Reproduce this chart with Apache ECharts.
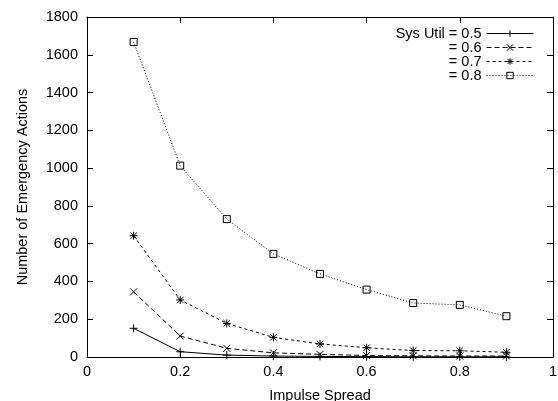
<!DOCTYPE html>
<html lang="en">
<head>
    <title>Emergency Actions vs Impulse Spread</title>
    <meta charset="utf-8">
    <script src="https://cdn.jsdelivr.net/npm/echarts@6/dist/echarts.min.js"></script>
    <style>
        html, body { margin: 0; padding: 0; background: #fff; }
        #chart { width: 558px; height: 401px; }
    </style>
</head>
<body>
    <div id="chart"></div>
    <script type="text/javascript">
        // data
        var spread = [0.1, 0.2, 0.3, 0.4, 0.5, 0.6, 0.7, 0.8, 0.9];
        var util05 = [152, 28, 10, 5, 3, 2, 1, 1, 1];
        var util06 = [345, 111, 46, 22, 14, 8, 6, 5, 5];
        var util07 = [642, 302, 178, 104, 69, 49, 34, 33, 25];
        var util08 = [1668, 1013, 730, 546, 440, 357, 286, 276, 216];
        var seriesNames = ["Sys Util = 0.5", "= 0.6", "= 0.7", "= 0.8"];
        var yTicks = [0, 200, 400, 600, 800, 1000, 1200, 1400, 1600, 1800];
        var xTicks = [0, 0.2, 0.4, 0.6, 0.8, 1];

        var font = "Liberation Sans, Arial, sans-serif";
        var fontSize = 14.5;
        var symPlus = "path://M5,0L5,10M0,5L10,5";
        var symCross = "path://M0,0L10,10M10,0L0,10";
        var symStar = "path://M5,0L5,10M0,5L10,5M1,1L9,9M9,1L1,9";
        var symBox = "path://M0,0L10,0L10,10L0,10Z";
        var symbols = [symPlus, symCross, symStar, symBox];
        var dashes = ["solid", [5, 3], [3, 3], [1, 2]];

        function pairs(vals) {
            return vals.map(function (v, i) { return [spread[i], v]; });
        }

        function makeSeries(idx, vals, size) {
            return {
                name: seriesNames[idx],
                type: "line",
                data: pairs(vals),
                symbol: symbols[idx],
                symbolSize: size,
                lineStyle: { color: "#000", width: 1, type: dashes[idx] },
                itemStyle: { color: "rgba(0,0,0,0)", borderColor: "#000", borderWidth: 1 },
                emphasis: { disabled: true },
                z: 3
            };
        }

        function makeLegend(idx, top) {
            return {
                data: [{
                    name: seriesNames[idx],
                    itemStyle: { color: "rgba(0,0,0,0)", borderColor: "#000", borderWidth: 1 },
                    lineStyle: { color: "#000", width: 1, type: dashes[idx] }
                }],
                right: 24,
                top: top,
                orient: "vertical",
                align: "right",
                itemWidth: 47,
                itemHeight: 8,
                padding: 0,
                selectedMode: false,
                textStyle: { fontFamily: font, fontSize: fontSize, color: "#000", padding: [0, 0, 0, 0] }
            };
        }

        var axisBase = {
            type: "value",
            axisLine: { show: true, onZero: false, lineStyle: { color: "#000", width: 1 } },
            axisTick: { show: true, inside: true, length: 6, lineStyle: { color: "#000" } },
            splitLine: { show: false }
        };

        var option = {
            animation: false,
            backgroundColor: "#fff",
            grid: { left: 87, right: 5, top: 17, bottom: 44, containLabel: false, outerBoundsMode: "none" },
            legend: [
                makeLegend(0, 26),
                makeLegend(1, 40),
                makeLegend(2, 54),
                makeLegend(3, 68)
            ],
            xAxis: [
                Object.assign({}, axisBase, {
                    position: "bottom",
                    min: xTicks[0],
                    max: xTicks[xTicks.length - 1],
                    interval: 0.2,
                    name: "Impulse Spread",
                    nameLocation: "middle",
                    nameGap: 31,
                    nameTextStyle: { fontFamily: font, fontSize: fontSize, color: "#000" },
                    axisLabel: { fontFamily: font, fontSize: fontSize, color: "#000", margin: 7 }
                }),
                Object.assign({}, axisBase, {
                    position: "top",
                    min: xTicks[0],
                    max: xTicks[xTicks.length - 1],
                    interval: 0.2,
                    axisLabel: { show: false }
                })
            ],
            yAxis: [
                Object.assign({}, axisBase, {
                    position: "left",
                    min: yTicks[0],
                    max: yTicks[yTicks.length - 1],
                    interval: 200,
                    name: "Number of Emergency Actions",
                    nameLocation: "middle",
                    nameGap: 57,
                    nameTextStyle: { fontFamily: font, fontSize: fontSize, color: "#000" },
                    axisLabel: {
                        fontFamily: font, fontSize: fontSize, color: "#000", margin: 9,
                        formatter: function (v) { return String(v); }
                    }
                }),
                Object.assign({}, axisBase, {
                    position: "right",
                    min: yTicks[0],
                    max: yTicks[yTicks.length - 1],
                    interval: 200,
                    axisLabel: { show: false }
                })
            ],
            series: [
                makeSeries(0, util05, 8),
                makeSeries(1, util06, 7),
                makeSeries(2, util07, 8),
                makeSeries(3, util08, 7)
            ]
        };

        var mychart = echarts.init(document.getElementById("chart"));
        mychart.setOption(option);
    </script>
</body>
</html>
